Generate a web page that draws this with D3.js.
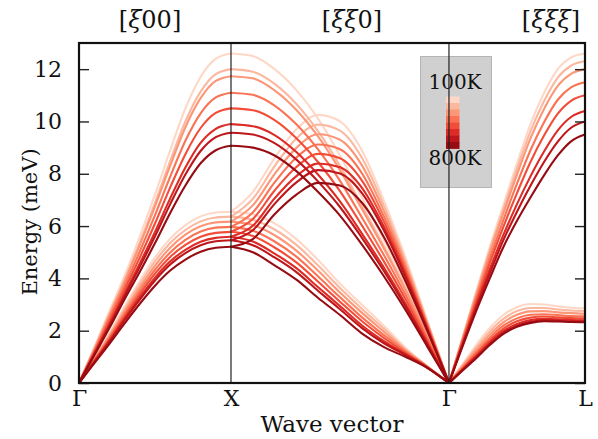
<!DOCTYPE html>
<html>
<head>
<meta charset="utf-8">
<script src="https://cdn.jsdelivr.net/npm/d3@7"></script>
<style>
  html, body { margin: 0; padding: 0; background: #ffffff; }
  svg { display: block; }
  text { font-family: "DejaVu Serif", serif; fill: #111; }
</style>
</head>
<body>
<svg id="chart" width="598" height="439"></svg>
<script>
// Phonon dispersion at eight temperatures along Γ–X–Γ–L.
const temps = ["100K", "200K", "300K", "400K", "500K", "600K", "700K", "800K"];

// High-symmetry points and their distance along the path
const kLabels = ["Γ", "X", "Γ", "L"];
const kDist = [0, 1, 2.434, 3.329];
const dirLabels = [["[", "ξ", "00]"], ["[", "ξξ", "0]"], ["[", "ξξξ", "]"]];
const yTicks = [0, 2, 4, 6, 8, 10, 12];

// Sample positions inside each segment (fraction of the segment)
const frac = [0, 0.1, 0.2, 0.3, 0.4, 0.5, 0.6, 0.7, 0.8, 0.9, 1.0];

// Γ→X, longitudinal branch (meV), one row per temperature
const gxLA = [
  [0, 1.35, 2.75, 4.10, 5.60, 7.20, 8.90, 10.50, 11.70, 12.40, 12.60],
  [0, 1.30, 2.64, 3.95, 5.37, 6.89, 8.49, 10.00, 11.14, 11.81, 12.00],
  [0, 1.28, 2.59, 3.88, 5.27, 6.75, 8.31, 9.78, 10.89, 11.55, 11.73],
  [0, 1.22, 2.48, 3.72, 5.03, 6.42, 7.89, 9.26, 10.31, 10.92, 11.10],
  [0, 1.17, 2.37, 3.57, 4.80, 6.10, 7.48, 8.75, 9.75, 10.33, 10.50],
  [0, 1.12, 2.25, 3.41, 4.57, 5.78, 7.06, 8.24, 9.18, 9.72, 9.90],
  [0, 1.09, 2.19, 3.33, 4.44, 5.61, 6.84, 7.97, 8.87, 9.40, 9.57],
  [0, 1.05, 2.10, 3.20, 4.25, 5.35, 6.50, 7.55, 8.40, 8.90, 9.07]
];

// Γ→X, transverse branch
const gxTA = [
  [0, 0.95, 1.90, 2.92, 3.90, 4.80, 5.52, 6.04, 6.37, 6.52, 6.55],
  [0, 0.92, 1.84, 2.83, 3.78, 4.65, 5.35, 5.85, 6.18, 6.33, 6.36],
  [0, 0.89, 1.79, 2.74, 3.65, 4.49, 5.17, 5.67, 5.99, 6.14, 6.17],
  [0, 0.86, 1.73, 2.64, 3.52, 4.33, 4.99, 5.47, 5.79, 5.94, 5.97],
  [0, 0.84, 1.67, 2.55, 3.40, 4.18, 4.82, 5.28, 5.59, 5.74, 5.78],
  [0, 0.81, 1.61, 2.46, 3.28, 4.03, 4.65, 5.09, 5.40, 5.55, 5.59],
  [0, 0.79, 1.57, 2.40, 3.19, 3.92, 4.53, 4.97, 5.27, 5.42, 5.46],
  [0, 0.75, 1.50, 2.28, 3.03, 3.72, 4.30, 4.72, 5.02, 5.17, 5.21]
];

// X→Γ, upper branch
const xgUp = [
  [12.60, 12.50, 12.00, 11.20, 10.10, 8.70, 7.10, 5.50, 3.80, 1.95, 0],
  [12.00, 11.90, 11.44, 10.67, 9.62, 8.31, 6.79, 5.26, 3.63, 1.86, 0],
  [11.73, 11.65, 11.19, 10.44, 9.42, 8.14, 6.66, 5.16, 3.56, 1.82, 0],
  [11.10, 11.02, 10.61, 9.89, 8.92, 7.73, 6.34, 4.91, 3.38, 1.72, 0],
  [10.50, 10.43, 10.05, 9.36, 8.44, 7.34, 6.03, 4.67, 3.21, 1.62, 0],
  [9.90, 9.82, 9.48, 8.83, 7.96, 6.94, 5.72, 4.43, 3.04, 1.53, 0],
  [9.57, 9.50, 9.17, 8.54, 7.70, 6.73, 5.56, 4.30, 2.94, 1.48, 0],
  [9.07, 9.00, 8.70, 8.10, 7.30, 6.40, 5.30, 4.10, 2.80, 1.40, 0]
];

// X→Γ, middle branch (rises to a maximum, then falls)
const xgMid = [
  [6.55, 7.30, 8.60, 9.70, 10.25, 10.00, 8.90, 7.00, 4.80, 2.40, 0],
  [6.36, 7.04, 8.29, 9.35, 9.88, 9.65, 8.62, 6.80, 4.67, 2.34, 0],
  [6.17, 6.79, 7.99, 8.99, 9.51, 9.30, 8.33, 6.60, 4.54, 2.29, 0],
  [5.97, 6.52, 7.67, 8.62, 9.12, 8.94, 8.03, 6.39, 4.41, 2.23, 0],
  [5.78, 6.27, 7.36, 8.26, 8.76, 8.59, 7.75, 6.20, 4.28, 2.17, 0],
  [5.59, 6.01, 7.06, 7.91, 8.39, 8.25, 7.47, 6.00, 4.16, 2.11, 0],
  [5.46, 5.84, 6.85, 7.67, 8.14, 8.01, 7.27, 5.86, 4.07, 2.07, 0],
  [5.21, 5.50, 6.45, 7.20, 7.65, 7.55, 6.90, 5.60, 3.90, 2.00, 0]
];

// X→Γ, lower branch
const xgLow = [
  [6.55, 6.45, 6.10, 5.50, 4.70, 3.80, 3.00, 2.20, 1.35, 0.65, 0],
  [6.36, 6.24, 5.87, 5.28, 4.49, 3.63, 2.84, 2.08, 1.30, 0.64, 0],
  [6.17, 6.04, 5.65, 5.06, 4.29, 3.46, 2.69, 1.97, 1.25, 0.63, 0],
  [5.97, 5.82, 5.41, 4.83, 4.07, 3.28, 2.52, 1.84, 1.20, 0.62, 0],
  [5.78, 5.62, 5.18, 4.61, 3.87, 3.11, 2.37, 1.73, 1.15, 0.61, 0],
  [5.59, 5.41, 4.95, 4.39, 3.66, 2.94, 2.21, 1.61, 1.10, 0.60, 0],
  [5.46, 5.27, 4.80, 4.24, 3.52, 2.82, 2.11, 1.53, 1.07, 0.59, 0],
  [5.21, 5.00, 4.50, 3.95, 3.25, 2.60, 1.90, 1.38, 1.00, 0.58, 0]
];

// Γ→L, longitudinal branch
const glLA = [
  [0, 1.75, 3.50, 5.20, 6.80, 8.40, 9.90, 11.10, 12.00, 12.45, 12.60],
  [0, 1.72, 3.43, 5.08, 6.64, 8.19, 9.63, 10.79, 11.68, 12.14, 12.30],
  [0, 1.68, 3.35, 4.97, 6.49, 7.97, 9.36, 10.49, 11.36, 11.83, 12.00],
  [0, 1.63, 3.23, 4.77, 6.23, 7.62, 8.91, 9.98, 10.83, 11.31, 11.50],
  [0, 1.57, 3.11, 4.58, 5.97, 7.26, 8.46, 9.47, 10.30, 10.80, 11.00],
  [0, 1.50, 2.97, 4.35, 5.66, 6.84, 7.91, 8.86, 9.66, 10.18, 10.40],
  [0, 1.46, 2.87, 4.19, 5.46, 6.55, 7.55, 8.46, 9.23, 9.77, 10.00],
  [0, 1.40, 2.75, 4.00, 5.20, 6.20, 7.10, 7.95, 8.70, 9.25, 9.50]
];

// Γ→L, transverse branch
const glTA = [
  [0, 0.72, 1.45, 2.10, 2.60, 2.90, 3.02, 3.00, 2.93, 2.88, 2.86],
  [0, 0.67, 1.35, 1.97, 2.45, 2.75, 2.87, 2.87, 2.81, 2.77, 2.75],
  [0, 0.63, 1.26, 1.85, 2.32, 2.61, 2.74, 2.75, 2.70, 2.67, 2.65],
  [0, 0.58, 1.16, 1.73, 2.19, 2.47, 2.61, 2.63, 2.60, 2.56, 2.55],
  [0, 0.55, 1.09, 1.63, 2.08, 2.36, 2.50, 2.54, 2.51, 2.48, 2.47],
  [0, 0.52, 1.02, 1.55, 1.99, 2.26, 2.41, 2.45, 2.44, 2.41, 2.40],
  [0, 0.49, 0.98, 1.49, 1.92, 2.19, 2.34, 2.40, 2.38, 2.36, 2.35],
  [0, 0.48, 0.95, 1.45, 1.88, 2.15, 2.30, 2.36, 2.35, 2.33, 2.32]
];

// Each branch lives on one segment of the path (index into kDist)
const branches = [
  { seg: 0, rows: gxLA }, { seg: 0, rows: gxTA },
  { seg: 1, rows: xgUp }, { seg: 1, rows: xgMid }, { seg: 1, rows: xgLow },
  { seg: 2, rows: glLA }, { seg: 2, rows: glTA }
];

const svg = d3.select("#chart");
const m = { left: 79, right: 585, top: 43, bottom: 383 };

const x = d3.scaleLinear().domain([kDist[0], kDist[kDist.length - 1]]).range([m.left, m.right]);
const y = d3.scaleLinear().domain([0, 13]).range([m.bottom, m.top]);

const color = d3.scaleOrdinal()
  .domain(temps)
  .range(temps.map((t, i) => d3.interpolateReds(0.15 + i * 0.107)));

const line = d3.line()
  .x(d => x(d[0]))
  .y(d => y(d[1]))
  .curve(d3.curveMonotoneX);

const plot = svg.append("g");

// Curves: lightest first so the hotter ones sit on top
temps.forEach((t, ti) => {
  branches.forEach(b => {
    const k0 = kDist[b.seg], k1 = kDist[b.seg + 1];
    const pts = frac.map((f, j) => [k0 + f * (k1 - k0), b.rows[ti][j]]);
    plot.append("path")
      .attr("d", line(pts))
      .attr("fill", "none")
      .attr("stroke", color(t))
      .attr("stroke-width", 2.1)
      .attr("stroke-linejoin", "round")
      .attr("stroke-linecap", "round");
  });
});

// Temperature legend
const leg = svg.append("g");
leg.append("rect")
  .attr("x", 420.5).attr("y", 56.5).attr("width", 71).attr("height", 131)
  .attr("fill", "#d0d0d0").attr("stroke", "#b4b4b4").attr("stroke-width", 1);
leg.append("text").attr("x", 455).attr("y", 89).attr("text-anchor", "middle")
  .style("font-size", "20px").text(temps[0]);
leg.append("text").attr("x", 455).attr("y", 165).attr("text-anchor", "middle")
  .style("font-size", "20px").text(temps[temps.length - 1]);
const cb = d3.scaleBand().domain(temps).range([96.5, 148.5]);
leg.selectAll("rect.cb").data(temps).join("rect")
  .attr("class", "cb")
  .attr("x", 446).attr("width", 13.5)
  .attr("y", d => cb(d)).attr("height", cb.bandwidth() + 0.4)
  .attr("fill", d => color(d));

// Vertical lines at the inner high-symmetry points
kDist.slice(1, -1).forEach(k => {
  svg.append("line")
    .attr("x1", x(k)).attr("x2", x(k))
    .attr("y1", m.top).attr("y2", m.bottom)
    .attr("stroke", "#222").attr("stroke-width", 1.2);
});

// Left axis with inward ticks
const yAxisL = d3.axisLeft(y).tickValues(yTicks).tickSize(-10).tickPadding(17).tickFormat(d3.format("d"));
const gL = svg.append("g").attr("transform", `translate(${m.left},0)`).call(yAxisL);
gL.select(".domain").remove();
gL.selectAll(".tick line").attr("stroke", "#222").attr("stroke-width", 1.4);
gL.selectAll(".tick text").style("font-size", "22px").style("font-family", "DejaVu Serif").attr("fill", "#111");

// Right axis: inward ticks only
const yAxisR = d3.axisRight(y).tickValues(yTicks).tickSize(-10).tickFormat("");
const gR = svg.append("g").attr("transform", `translate(${m.right},0)`).call(yAxisR);
gR.select(".domain").remove();
gR.selectAll(".tick line").attr("stroke", "#222").attr("stroke-width", 1.4);

// High-symmetry point labels
const xAxis = d3.axisBottom(x).tickValues(kDist).tickSize(0).tickPadding(7)
  .tickFormat((d, i) => kLabels[i]);
const gB = svg.append("g").attr("transform", `translate(0,${m.bottom})`).call(xAxis);
gB.select(".domain").remove();
gB.selectAll(".tick text").style("font-size", "22px").style("font-family", "DejaVu Serif").attr("fill", "#111");

// Frame
svg.append("rect")
  .attr("x", m.left).attr("y", m.top)
  .attr("width", m.right - m.left).attr("height", m.bottom - m.top)
  .attr("fill", "none").attr("stroke", "#111").attr("stroke-width", 2.2);

// Direction labels above the plot (ξ set in italics)
const dirX = [150, 352, 551];
dirLabels.forEach((parts, i) => {
  const t = svg.append("text").attr("x", dirX[i]).attr("y", 28).attr("text-anchor", "middle")
    .style("font-size", "24px");
  parts.forEach((p, j) => {
    t.append("tspan").style("font-style", j === 1 ? "italic" : "normal").text(p);
  });
});

// Axis titles
svg.append("text").attr("x", 332).attr("y", 432).attr("text-anchor", "middle")
  .style("font-size", "23px").text("Wave vector");
svg.append("text")
  .attr("transform", "translate(37,222) rotate(-90)")
  .attr("text-anchor", "middle")
  .style("font-size", "21px").text("Energy (meV)");
</script>
</body>
</html>
